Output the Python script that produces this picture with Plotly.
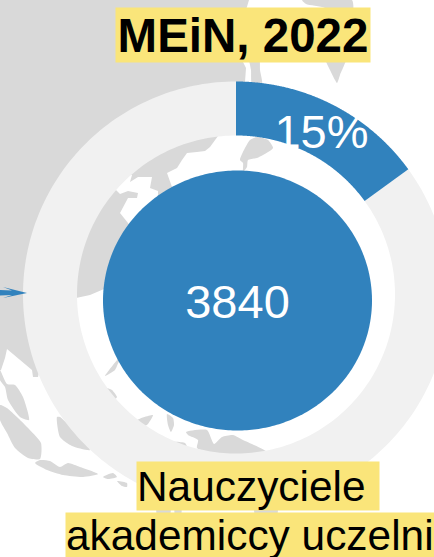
import numpy as np
import plotly.graph_objects as go

# ---- data ----
share_percent = [15]
count_value = ["3840"]
title_text = ["MEiN, 2022"]
label_lines = ["Nauczyciele ", "akademiccy uczelni"]

W, H = 434, 557
BLUE = "#3182BD"
GRAY = "#D9D9D9"
RING = "#F1F1F1"
YELLOW = "#FAE57A"
FONT = "Liberation Sans, Arial, sans-serif"

# backdrop map outlines (decorative, picture coordinates)
map_main = [(0,0),(249,0),(240,30),(243,62),(246,68),(245,82),(240,110),(218,136),(210,147),(205,151),
            (197,152),(187,153),(182,160),(177,168),(167,173),(172,187),(180,210),(170,230),(158,200),
            (158,191),(150,188),(152,177),(138,177),(130,182),(132,175),(122,172),(112,182),(116,190),
            (120,194),(128,191),(138,193),(137,198),(128,198),(120,213),(128,223),(150,260),(120,285),
            (104,289),(90,295),(76,298),(50,320),(38,377),(33,377),(32,370),(7,349),(5,358),(1,370),(0,370)]
map_islands = [
    [(249,55),(259,55),(260,70),(262,84),(252,84),(251,70)],
    [(0,370),(7,384),(15,385),(23,397),(29,420),(20,417),(8,400),(5,387),(0,380)],
    [(0,405),(7,408),(17,417),(27,427),(41,443),(40,459),(28,458),(15,448),(7,433),(0,420)],
    [(35,463),(40,460),(50,461),(60,467),(68,463),(80,467),(98,474),(83,477),(63,475),(47,470)],
    [(103,477),(113,473),(117,477),(108,479)],
    [(117,481),(127,483),(127,487),(122,486)],
    [(57,417),(60,417),(90,450),(72,446),(60,437)],
    [(100,380),(105,387),(112,390),(117,397),(115,399),(108,393)],
    [(105,376),(117,360),(125,350),(125,360),(119,362),(115,370)],
    [(135,421),(153,415),(147,425),(143,426)],
    [(167,414),(173,418),(174,425),(171,432),(168,425)],
    [(173,442),(185,443),(187,447),(180,450)],
    [(186,432),(207,430),(214,444),(222,437),(233,435),(243,440),(267,452),(237,456),(213,453),(197,448),(198,440),(188,435)],
    [(250,140),(257,137),(268,140),(273,148),(263,155),(257,158),(248,160),(247,167),(243,172),(243,163),(240,160)],
    [(302,0),(306,4),(325,8),(350,30),(352,0)],
    [(324,55),(347,55),(340,75),(337,83),(335,80),(330,70)],
    [(157,505),(170,505),(170,515),(157,515)],
    [(175,505),(181,505),(181,515),(175,515)],
    [(255,505),(277,505),(277,515),(255,515)],
]
arrow_outline = [(0,290),(12,290.5),(3,287),(27,293),(3,298),(12,295),(0,295.5)]

def closed(p):
    return [q[0] for q in p] + [p[0][0]], [q[1] for q in p] + [p[0][1]]

def band(cx, cy, r0, r1, a0, a1, n=240):
    t = np.radians(np.linspace(a0, a1, n))
    x = np.r_[cx + r1*np.sin(t), cx + r0*np.sin(t[::-1])]
    y = np.r_[cy - r1*np.cos(t), cy - r0*np.cos(t[::-1])]
    return np.r_[x, x[0]], np.r_[y, y[0]]

def filled(x, y, color, shape="linear"):
    line = dict(width=0, color=color, simplify=False, shape=shape)
    if shape == "spline":
        line["smoothing"] = 0.6
    return go.Scatter(x=x, y=y, mode="lines", fill="toself", fillcolor=color,
                      line=line, hoverinfo="skip", showlegend=False)

CX, CY, R0, R1 = 236, 294.5, 159, 213
end_angle = share_percent[0] / 100 * 360

fig = go.Figure()
fig.add_trace(filled(*closed(map_main), GRAY))
for island in map_islands:
    fig.add_trace(filled(*closed(island), GRAY, "spline"))
fig.add_trace(filled(*band(CX, CY, R0, R1, end_angle, 360), RING))
fig.add_trace(filled(*band(CX, CY, R0, R1, 0, end_angle), BLUE))
t = np.radians(np.linspace(0, 360, 361))
fig.add_trace(filled(237.5 + 134.5*np.sin(t), 300.5 - 130*np.cos(t), BLUE))
fig.add_trace(filled(*closed(arrow_outline), BLUE))

def note(text, x0, x1, y0, y1, size, color, bold=False, bg=None, align="center"):
    return dict(x=(x0+x1)/2, y=(y0+y1)/2, xref="x", yref="y", xanchor="center", yanchor="middle",
                width=x1-x0, height=y1-y0, align=align, valign="middle", showarrow=False,
                text=f"<b>{text}</b>" if bold else text, bgcolor=bg, borderpad=0,
                font=dict(family=FONT, size=size, color=color))

fig.update_layout(
    width=W, height=H, margin=dict(l=0, r=0, t=0, b=0),
    paper_bgcolor="white", plot_bgcolor="white", showlegend=False,
    xaxis=dict(visible=False, range=[0, W], fixedrange=True),
    yaxis=dict(visible=False, range=[H, 0], fixedrange=True),
    annotations=[
        note(title_text[0], 116, 370, 8, 62, 47.5, "black", bold=True, bg=YELLOW),
        note(f"{share_percent[0]}%", 265, 378, 106, 156, 47, "white"),
        note(count_value[0], 170, 305, 274, 328, 47, "white"),
        note(label_lines[0], 137, 379, 462, 510, 42.4, "black", bg=YELLOW, align="left"),
        note(label_lines[1], 66, 434, 513, 557, 42.4, "black", bg=YELLOW, align="left"),
    ],
)
fig.write_html("out.html", config={"displayModeBar": False},
               post_script="document.body.style.margin='0';")
